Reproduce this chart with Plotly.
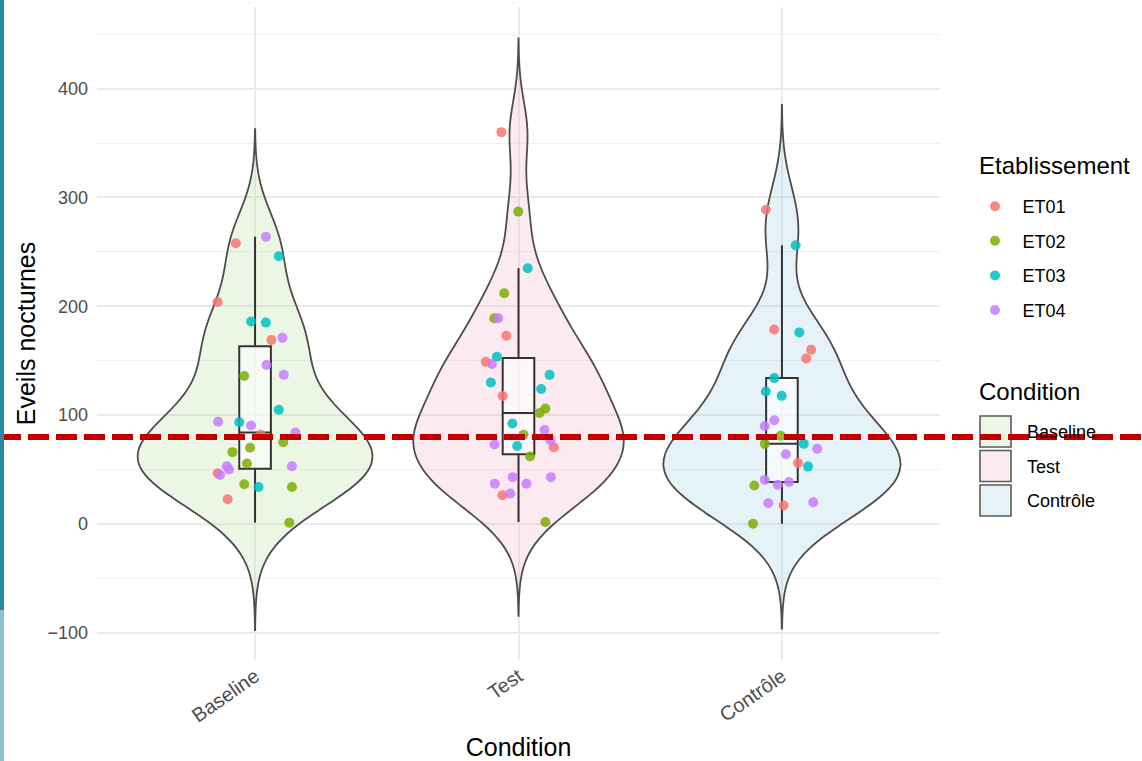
import numpy as np
import pandas as pd
import plotly.graph_objects as go

conditions = ["Baseline", "Test", "Contrôle"]
etablissements = ["ET01", "ET02", "ET03", "ET04"]
etab_colors = ["rgba(248,118,109,0.85)", "rgba(124,174,0,0.85)",
               "rgba(0,191,196,0.85)", "rgba(199,124,255,0.85)"]
condition_fills = ["rgba(160,210,125,0.2)", "rgba(235,150,180,0.2)",
                   "rgba(125,190,215,0.2)"]
seuil_reference = 80

baseline_eveils = [264, 258, 246, 204, 186, 185, 169, 171, 146, 136, 137,
                   105, 94, 93.5, 90.4, 82, 84, 75, 66, 70, 55.5, 53, 50,
                   46.6, 45, 53, 36.5, 34, 34, 22.7, 1.2]
baseline_etab = ["ET04", "ET01", "ET03", "ET01", "ET03", "ET03", "ET01",
                 "ET04", "ET04", "ET02", "ET04", "ET03", "ET04", "ET03",
                 "ET04", "ET01", "ET04", "ET02", "ET02", "ET02", "ET02",
                 "ET04", "ET04", "ET01", "ET04", "ET04", "ET02", "ET03",
                 "ET02", "ET01", "ET02"]
baseline_jitter = [0.041, -0.073, 0.090, -0.142, -0.015, 0.041, 0.062, 0.104,
                   0.043, -0.041, 0.109, 0.090, -0.140, -0.060, -0.015, 0.022,
                   0.153, 0.107, -0.086, -0.019, -0.031, -0.107, -0.099,
                   -0.142, -0.133, 0.140, -0.041, 0.013, 0.140, -0.104, 0.130]

test_eveils = [360, 287, 235, 212, 189, 189, 173, 153.6, 149, 147, 137, 130,
               124, 117.5, 106, 102, 92.3, 86.4, 82, 73, 77, 71.7, 70.5, 62,
               43, 43, 37, 37, 26.4, 28, 1.8]
test_etab = ["ET01", "ET02", "ET03", "ET02", "ET02", "ET04", "ET01", "ET03",
             "ET01", "ET04", "ET03", "ET03", "ET03", "ET01", "ET02", "ET02",
             "ET03", "ET04", "ET02", "ET04", "ET04", "ET03", "ET01", "ET02",
             "ET04", "ET04", "ET04", "ET04", "ET01", "ET04", "ET02"]
test_jitter = [-0.065, -0.001, 0.035, -0.054, -0.092, -0.077, -0.046, -0.082,
               -0.124, -0.101, 0.118, -0.105, 0.086, -0.060, 0.102, 0.080,
               -0.023, 0.099, 0.019, -0.091, 0.121, -0.005, 0.134, 0.044,
               -0.022, 0.123, -0.090, 0.030, -0.061, -0.031, 0.102]

controle_eveils = [288.7, 256, 178.7, 176, 160, 152, 134, 121.7, 117.7, 95.3,
                   90, 81, 73.6, 73.6, 69, 64, 56, 52.7, 40.5, 36, 38.6, 35.3,
                   19, 17, 20, 0.3]
controle_etab = ["ET01", "ET03", "ET01", "ET03", "ET01", "ET01", "ET03",
                 "ET03", "ET03", "ET04", "ET04", "ET02", "ET02", "ET03",
                 "ET04", "ET04", "ET01", "ET03", "ET04", "ET04", "ET04",
                 "ET02", "ET04", "ET01", "ET04", "ET02"]
controle_jitter = [-0.061, 0.052, -0.029, 0.066, 0.111, 0.092, -0.029, -0.061,
                   -0.001, -0.029, -0.065, -0.005, -0.065, 0.083, 0.134, 0.015,
                   0.061, 0.099, -0.065, -0.016, 0.027, -0.105, -0.052, 0.006,
                   0.119, -0.110]

frames = []
for i, (cond, vals, etab, jit) in enumerate([
        ("Baseline", baseline_eveils, baseline_etab, baseline_jitter),
        ("Test", test_eveils, test_etab, test_jitter),
        ("Contrôle", controle_eveils, controle_etab, controle_jitter)]):
    frames.append(pd.DataFrame({"condition": cond, "pos": i, "eveils": vals,
                                "etab": etab, "jitter": jit}))
df = pd.concat(frames, ignore_index=True)


def bw_nrd0(v):
    # meme regle que R (bw.nrd0), utilisee par ggplot
    v = np.asarray(v, dtype=float)
    q75, q25 = np.percentile(v, [75, 25])
    lo = min(v.std(ddof=1), (q75 - q25) / 1.34)
    return 0.9 * lo * len(v) ** -0.2


def kde_max(v, bw, span):
    v = np.asarray(v, dtype=float)
    grid = np.linspace(span[0], span[1], 512)
    d = np.exp(-0.5 * ((grid[:, None] - v[None, :]) / bw) ** 2).sum(axis=1)
    return d.max() / (len(v) * bw * np.sqrt(2 * np.pi))


# violons non tronques (trim = FALSE -> +/- 3 bw), echelle "area"
stats = []
for cond in conditions:
    v = df.loc[df.condition == cond, "eveils"]
    bw = bw_nrd0(v)
    span = [v.min() - 3 * bw, v.max() + 3 * bw]
    stats.append((bw, span, kde_max(v, bw, span)))
dmax = max(s[2] for s in stats)

fig = go.Figure()

for i, cond in enumerate(conditions):
    sub = df[df.condition == cond]
    bw, span, dm = stats[i]
    fig.add_trace(go.Violin(
        x=sub["pos"], y=sub["eveils"], name=cond, showlegend=False,
        bandwidth=bw, spanmode="manual", span=span,
        width=0.9 * dm / dmax, points=False, fillcolor=condition_fills[i],
        line=dict(color="#4d4d4d", width=1.8), hoverinfo="skip",
    ))

# boxplots sans points aberrants affiches (moustaches a 1.5 IQR)
for i, cond in enumerate(conditions):
    sub = df[df.condition == cond]
    fig.add_trace(go.Box(
        x=sub["pos"], y=sub["eveils"], width=0.12, boxpoints="outliers",
        marker=dict(color="rgba(0,0,0,0)", size=1,
                    line=dict(width=0, color="rgba(0,0,0,0)")),
        quartilemethod="linear", whiskerwidth=0,
        fillcolor="rgba(255,255,255,0.6)",
        line=dict(color="#333333", width=2), showlegend=False,
        hoverinfo="skip",
    ))

for k, et in enumerate(etablissements):
    sub = df[df.etab == et]
    fig.add_trace(go.Scatter(
        x=sub["pos"] + sub["jitter"], y=sub["eveils"], mode="markers",
        name=et, legendgroup=et,
        marker=dict(size=10, color=etab_colors[k]),
    ))


def xp(px):
    return (px - 97) / 843


def yp(py):
    return 1 - (py - 7) / 653


# legende "Condition" (cles carrees comme ggplot)
for i, cond in enumerate(conditions):
    top = 416 + i * 34.5
    fig.add_shape(type="rect", xref="paper", yref="paper",
                  x0=xp(980), x1=xp(1011), y0=yp(top + 31), y1=yp(top),
                  fillcolor=condition_fills[i],
                  line=dict(color="#5a5a5a", width=1.6))
    fig.add_annotation(text=cond, xref="paper", yref="paper",
                       x=xp(1025), y=yp(top + 16), xanchor="left",
                       yanchor="middle", showarrow=False,
                       font=dict(size=18, color="black"))

# titres des legendes
fig.add_annotation(text="Etablissement", xref="paper", yref="paper",
                   x=xp(977), y=yp(165), xanchor="left", yanchor="middle",
                   showarrow=False, font=dict(size=24, color="black"))
fig.add_annotation(text="Condition", xref="paper", yref="paper",
                   x=xp(977), y=yp(392), xanchor="left", yanchor="middle",
                   showarrow=False, font=dict(size=24, color="black"))

# ligne de reference ajoutee sur toute la largeur
fig.add_shape(type="line", xref="paper", yref="y", x0=xp(0), x1=xp(1142),
              y0=seuil_reference, y1=seuil_reference,
              line=dict(color="#c00000", width=6, dash="21px,7px"),
              layer="above")
# lisere bleu a gauche de la capture
fig.add_shape(type="rect", xref="paper", yref="paper", x0=xp(0), x1=xp(4),
              y0=yp(610), y1=yp(0), line_width=0, fillcolor="#2a879d",
              layer="above")
fig.add_shape(type="rect", xref="paper", yref="paper", x0=xp(0), x1=xp(4),
              y0=yp(761), y1=yp(610), line_width=0, fillcolor="#8fbfcd",
              layer="above")

font = "Liberation Sans, Arial, sans-serif"
fig.update_layout(
    width=1142, height=761,
    margin=dict(l=97, r=202, t=7, b=101, autoexpand=False),
    plot_bgcolor="white", paper_bgcolor="white",
    font=dict(family=font, color="black"),
    violinmode="overlay", boxmode="overlay",
    xaxis=dict(
        range=[-0.6, 2.6], tickvals=[0, 1, 2], ticktext=conditions,
        tickangle=-35, tickfont=dict(size=20, color="#4d4d4d"),
        showgrid=True, gridcolor="#ebebeb", gridwidth=1.6, zeroline=False,
        automargin=False,
        title=dict(text="Condition", font=dict(size=25), standoff=14),
    ),
    yaxis=dict(
        range=[-125, 475], tickvals=[-100, 0, 100, 200, 300, 400],
        tickfont=dict(size=18, color="#4d4d4d"), ticklabelstandoff=8,
        showgrid=True, gridcolor="#ebebeb", gridwidth=1.6, zeroline=False,
        minor=dict(tickvals=[-50, 50, 150, 250, 350, 450], showgrid=True,
                   gridcolor="#f0f0f0", gridwidth=1.2),
        automargin=False,
        title=dict(text="Eveils nocturnes", font=dict(size=25), standoff=4),
    ),
    showlegend=True,
    legend=dict(
        x=xp(967.5), y=yp(188), xanchor="left", yanchor="top",
        font=dict(size=18), traceorder="grouped", tracegroupgap=8.2,
        itemsizing="trace", itemwidth=45, bgcolor="rgba(0,0,0,0)",
    ),
)

# la page sans marge pour que la figure occupe toute la fenetre
fig.write_html("out.html", config={"displayModeBar": False},
               post_script="document.body.style.margin = '0';")
